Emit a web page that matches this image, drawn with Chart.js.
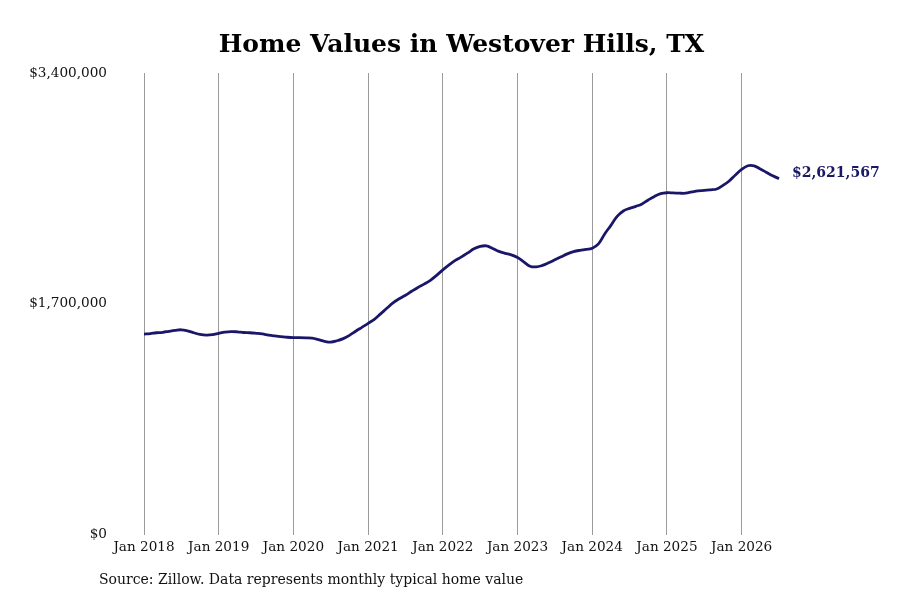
<!DOCTYPE html>
<html>
<head>
<meta charset="utf-8">
<script src="https://cdn.jsdelivr.net/npm/chart.js@4.4.1/dist/chart.umd.min.js"></script>
<style>
  html, body { margin: 0; padding: 0; background: #fff; }
  #wrap { position: relative; width: 900px; height: 600px; }
  #note {
    position: absolute; left: 99px; top: 571px;
    font-family: "DejaVu Serif", serif; font-size: 14px; color: #111;
  }
</style>
</head>
<body>
<div id="wrap">
  <canvas id="homeChart" width="900" height="600"></canvas>
  <div id="note">Source: Zillow. Data represents monthly typical home value</div>
</div>
<script>
// typical home value, monthly, Jan 2018 - Jul 2026
const years = [2018, 2019, 2020, 2021, 2022, 2023, 2024, 2025, 2026];
const monthNames = ['Jan', 'Feb', 'Mar', 'Apr', 'May', 'Jun', 'Jul', 'Aug', 'Sep', 'Oct', 'Nov', 'Dec'];
const homeValues = [
  1477000, 1481000, 1487000, 1490000, 1498000, 1505000, 1509000, 1501000, 1487000, 1475000, 1470000, 1473000,
  1483000, 1492000, 1496000, 1494000, 1489000, 1487000, 1483000, 1478000, 1470000, 1464000, 1459000, 1454000,
  1451000, 1451000, 1450000, 1448000, 1437000, 1424000, 1418000, 1428000, 1444000, 1468000, 1498000, 1527000,
  1556000, 1586000, 1626000, 1667000, 1707000, 1737000, 1763000, 1793000, 1821000, 1845000, 1873000, 1910000,
  1950000, 1987000, 2020000, 2046000, 2075000, 2105000, 2123000, 2127000, 2108000, 2086000, 2072000, 2061000,
  2041000, 2009000, 1977000, 1972000, 1983000, 2002000, 2024000, 2046000, 2068000, 2084000, 2094000, 2101000,
  2110000, 2142000, 2215000, 2278000, 2344000, 2384000, 2403000, 2418000, 2436000, 2465000, 2491000, 2511000,
  2518000, 2517000, 2515000, 2515000, 2524000, 2532000, 2535000, 2540000, 2546000, 2572000, 2605000, 2649000,
  2690000, 2717000, 2716000, 2693000, 2668000, 2643000, 2621567
];
const yTicks = [0, 1700000, 3400000];

const labels = [];
years.forEach(y => monthNames.forEach(m => labels.push(m + ' ' + y)));
labels.length = homeValues.length;

const fmt = v => '$' + Math.round(v).toLocaleString('en-US');
const navy = '#1a1768';

// label next to the last point
const lastValueLabel = {
  id: 'lastValueLabel',
  afterDatasetsDraw(chart) {
    const meta = chart.getDatasetMeta(0);
    const pt = meta.data[meta.data.length - 1];
    const ctx = chart.ctx;
    ctx.save();
    ctx.font = 'bold 14px "DejaVu Serif"';
    ctx.fillStyle = navy;
    ctx.textAlign = 'left';
    ctx.textBaseline = 'middle';
    ctx.fillText(fmt(homeValues[homeValues.length - 1]), pt.x + 13, pt.y - 5);
    ctx.restore();
  }
};

Chart.defaults.font.family = '"DejaVu Serif", serif';
Chart.defaults.color = '#111';

new Chart(document.getElementById('homeChart'), {
  type: 'line',
  data: {
    labels: labels,
    datasets: [{
      data: homeValues,
      borderColor: navy,
      borderWidth: 2.8,
      pointRadius: 0,
      tension: 0.4,
      fill: false
    }]
  },
  options: {
    responsive: false,
    animation: false,
    layout: { padding: { left: 29, right: 121, bottom: 39, top: 0 } },
    plugins: {
      legend: { display: false },
      tooltip: { enabled: false },
      title: {
        display: true,
        text: 'Home Values in Westover Hills, TX',
        fullSize: false,
        color: '#000',
        font: { size: 25, weight: 'bold' },
        padding: { top: 30, bottom: 13 }
      }
    },
    scales: {
      x: {
        type: 'category',
        border: { display: false },
        grid: { color: '#9a9a9a', lineWidth: 1, drawTicks: false },
        ticks: {
          autoSkip: false,
          maxRotation: 0,
          padding: 5,
          font: { size: 13.6 },
          callback: function (val) {
            const lab = this.getLabelForValue(val);
            return lab.startsWith('Jan') ? lab : null;
          }
        }
      },
      y: {
        min: 0,
        max: 3400000,
        border: { display: false },
        grid: { display: false, drawTicks: false },
        afterBuildTicks: axis => { axis.ticks = yTicks.map(v => ({ value: v })); },
        afterFit: axis => { axis.width = 115; },
        ticks: {
          padding: 37,
          font: { size: 13.6 },
          callback: v => fmt(v)
        }
      }
    }
  },
  plugins: [lastValueLabel]
});
</script>
</body>
</html>
